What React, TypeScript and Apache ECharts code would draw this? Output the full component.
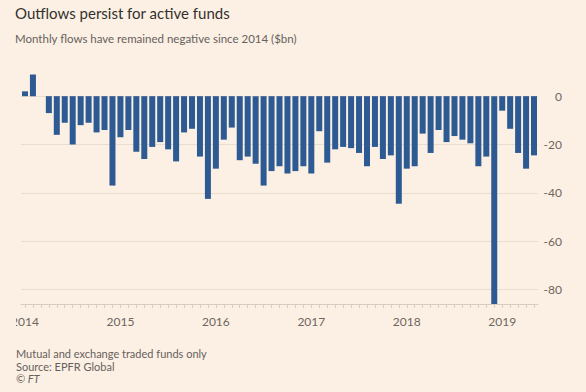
import React, { useEffect, useRef } from "react";
import * as echarts from "echarts";

const years = ["2014", "2015", "2016", "2017", "2018", "2019"];
const months = ["Jan", "Feb", "Mar", "Apr", "May", "Jun", "Jul", "Aug", "Sep", "Oct", "Nov", "Dec"];
const monthCount = 65;

const flows2014 = [2, 9, 0, -7, -16, -11, -20, -12, -11, -15, -14, -37];
const flows2015 = [-17, -14, -23, -26, -21, -19, -22, -27, -15, -13.5, -25, -42.5];
const flows2016 = [-30, -18, -13, -26.5, -25, -28, -37, -31, -29, -32, -31, -29];
const flows2017 = [-32, -14.5, -27.5, -22, -21, -21.5, -23.5, -29, -21, -26, -24.5, -44.5];
const flows2018 = [-30, -29, -15.5, -23.5, -14, -19, -16.5, -18, -19.5, -29, -25, -86];
const flows2019 = [-6, -13.5, -23.5, -30, -24.5];

const yTicks = [0, -20, -40, -60, -80];

const title = "Outflows persist for active funds";
const subtitle = "Monthly flows have remained negative since 2014 ($bn)";
const notes = ["Mutual and exchange traded funds only", "Source: EPFR Global"];
const credit = "\u00A9 FT";

const BG = "#fcf0e4";
const FONT = "Lato, 'Open Sans', sans-serif";

export default function App() {
  const ref = useRef<HTMLDivElement>(null);

  useEffect(() => {
    if (!ref.current) return;
    const chart = echarts.init(ref.current, null, { renderer: "svg" });
    const categories = years
      .flatMap((y) => months.map((m) => `${m} ${y}`))
      .slice(0, monthCount);
    const values = [...flows2014, ...flows2015, ...flows2016, ...flows2017, ...flows2018, ...flows2019];

    chart.setOption({
      animation: false,
      backgroundColor: BG,
      textStyle: { fontFamily: FONT },
      grid: { left: 21, right: 48, top: 72, bottom: 88, containLabel: false },
      xAxis: {
        type: "category",
        data: categories,
        position: "bottom",
        axisLine: { onZero: false, lineStyle: { color: "#d8ccbf", width: 1 } },
        axisTick: { show: true, alignWithLabel: true, interval: 0, length: 4, lineStyle: { color: "#d8ccbf" } },
        axisLabel: {
          interval: 11,
          margin: 11,
          color: "#6e6660",
          fontSize: 12,
          fontFamily: FONT,
          formatter: (v: string) => v.split(" ")[1],
        },
        splitLine: { show: false },
      },
      yAxis: {
        type: "value",
        position: "right",
        min: -86,
        max: 10,
        splitNumber: 5,
        axisLine: { show: false },
        axisTick: { show: false },
        axisLabel: {
          showMinLabel: false,
          showMaxLabel: false,
          align: "right",
          margin: 24,
          color: "#6e6660",
          fontSize: 12,
          fontFamily: FONT,
          formatter: (v: number) => (yTicks.includes(v) ? String(v) : ""),
        },
        splitLine: {
          show: true,
          showMinLine: false,
          showMaxLine: false,
          lineStyle: { color: "#e9ddd0", width: 1 },
        },
      },
      series: [
        {
          type: "bar",
          data: values,
          barWidth: 6,
          itemStyle: { color: "#2d5a93" },
          silent: true,
        },
      ],
      graphic: [
        {
          type: "rect",
          z: 100,
          shape: { x: 0, y: 308, width: 16, height: 28 },
          style: { fill: BG },
        },
        {
          type: "text",
          style: { text: title, x: 15, y: 13, fill: "#33302e", font: `15px ${FONT}`, verticalAlign: "middle" },
        },
        {
          type: "text",
          style: { text: subtitle, x: 15, y: 38, fill: "#66605c", font: `11.5px ${FONT}`, verticalAlign: "middle" },
        },
        {
          type: "text",
          style: { text: notes[0], x: 16, y: 353, fill: "#66605c", font: `11px ${FONT}`, verticalAlign: "middle" },
        },
        {
          type: "text",
          style: { text: notes[1], x: 16, y: 366, fill: "#66605c", font: `11px ${FONT}`, verticalAlign: "middle" },
        },
        {
          type: "text",
          style: { text: credit, x: 16, y: 378, fill: "#66605c", font: `italic 11px ${FONT}`, verticalAlign: "middle" },
        },
      ],
    });
    return () => chart.dispose();
  }, []);

  return (
    <div
      ref={ref}
      style={{ position: "fixed", left: 0, top: 0, width: 586, height: 392 }}
    />
  );
}
